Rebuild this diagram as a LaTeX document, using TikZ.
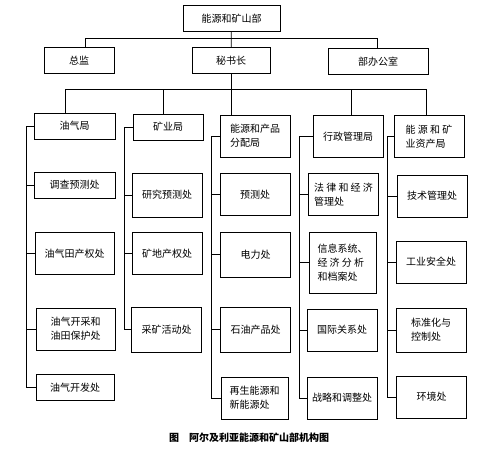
\documentclass[tikz,border=0pt]{standalone}
\usepackage{fontspec}
\newfontfamily\cjk{Noto Sans CJK SC}

\begin{document}
\begin{tikzpicture}[x=1pt, y=-1pt,
    unit/.style={draw, line width=0.8pt, minimum width=70pt, minimum height=42pt, inner sep=2pt, align=left, font=\cjk\fontsize{10}{14}\selectfont},
    low/.style={unit, minimum height=26pt},
    tall/.style={unit, minimum height=61pt},
    link/.style={line width=0.7pt}
]
\useasboundingbox (0,0) rectangle (486,448);

\node[low, minimum width=97pt] (ministry) at (231.5,18.5) {能源和矿山部};
\node[low] (inspector) at (79,60.5) {总监};
\node[low, minimum width=78pt] (secretary) at (231,60.5) {秘书长};
\node[low, minimum width=100pt] (office) at (378,61.5) {部办公室};

\node[low, minimum width=81pt] (oilgas) at (74.5,126) {油气局};
\node[low, minimum width=81pt] (survey) at (74.5,185) {调查预测处};
\node[unit, minimum width=79pt] (fieldright) at (74.5,253.5) {油气田产权处};
\node[unit, minimum width=79pt] (exploit) at (75.5,329) {油气开采和\\油田保护处};
\node[low, minimum width=78pt] (develop) at (75,387.5) {油气开发处};

\node[low] (mining) at (168,127) {矿业局};
\node[unit, minimum height=44pt] (research) at (167,195) {研究预测处};
\node[unit] (landright) at (167,253.5) {矿地产权处};
\node[unit, minimum height=45pt] (activity) at (166.5,329.5) {采矿活动处};

\node[unit] (distrib) at (255,136) {能源和产品\\分配局};
\node[unit] (forecast) at (255,194.5) {预测处};
\node[unit, minimum height=45pt] (power) at (255.5,254.5) {电力处};
\node[unit, minimum height=45pt] (petro) at (255.5,329.5) {石油产品处};
\node[unit, minimum width=67pt] (renew) at (254.5,398) {再生能源和\\新能源处};

\node[unit] (admin) at (348,136.5) {行政管理局};
\node[unit] (law) at (343.5,194.5) {法 律 和 经 济\\管理处};
\node[tall, minimum width=67pt] (info) at (342.5,262.5) {信息系统、\\经 济 分 析\\和档案处};
\node[unit] (intl) at (342,330) {国际关系处};
\node[unit] (strategy) at (342,398) {战略和调整处};

\node[unit] (assets) at (429,136.5) {能 源 和 矿\\业资产局};
\node[unit] (tech) at (432,196) {技术管理处};
\node[unit] (safety) at (431,262) {工业安全处};
\node[unit, minimum height=44pt] (standard) at (431,330) {标准化与\\控制处};
\node[unit] (environ) at (431.5,397) {环境处};

\node[font=\cjk\bfseries\fontsize{10}{12}\selectfont] (caption) at (249,438) {图\quad 阿尔及利亚能源和矿山部机构图};

\coordinate (t1) at (85,38);
\coordinate (t2) at (377,38);
\draw[link] (ministry) -- (secretary);
\draw[link] (t1 |- inspector.north) -- (t1) -- (t2) -- (t2 |- office.north);

\coordinate (b1) at (65,89);
\coordinate (b2) at (163,89);
\coordinate (b3) at (231,89);
\coordinate (b4) at (351,89);
\coordinate (b5) at (426,89);
\draw[link] (secretary) -- (b3);
\draw[link] (b1) -- (b5);
\draw[link] (b1) -- (b1 |- oilgas.north);
\draw[link] (b2) -- (b2 |- mining.north);
\draw[link] (b3) -- (b3 |- distrib.north);
\draw[link] (b4) -- (b4 |- admin.north);
\draw[link] (b5) -- (b5 |- assets.north);

\coordinate (s1) at (26,0);
\coordinate (s2) at (124,0);
\coordinate (s3) at (211,0);
\coordinate (s4) at (299,0);
\coordinate (s5) at (387,0);
\foreach \n in {oilgas, survey, fieldright, exploit, develop}
    \draw[link] (\n.west) -- (\n.west -| s1);
\draw[link] (oilgas.west -| s1) -- (develop.west -| s1);
\foreach \n in {mining, research, landright, activity}
    \draw[link] (\n.west) -- (\n.west -| s2);
\draw[link] (mining.west -| s2) -- (activity.west -| s2);
\foreach \n in {distrib, forecast, power, petro, renew}
    \draw[link] (\n.west) -- (\n.west -| s3);
\draw[link] (distrib.west -| s3) -- (renew.west -| s3);
\foreach \n in {admin, law, info, intl, strategy}
    \draw[link] (\n.west) -- (\n.west -| s4);
\draw[link] (admin.west -| s4) -- (strategy.west -| s4);
\foreach \n in {assets, tech, safety, standard, environ}
    \draw[link] (\n.west) -- (\n.west -| s5);
\draw[link] (assets.west -| s5) -- (environ.west -| s5);
\end{tikzpicture}
\end{document}
